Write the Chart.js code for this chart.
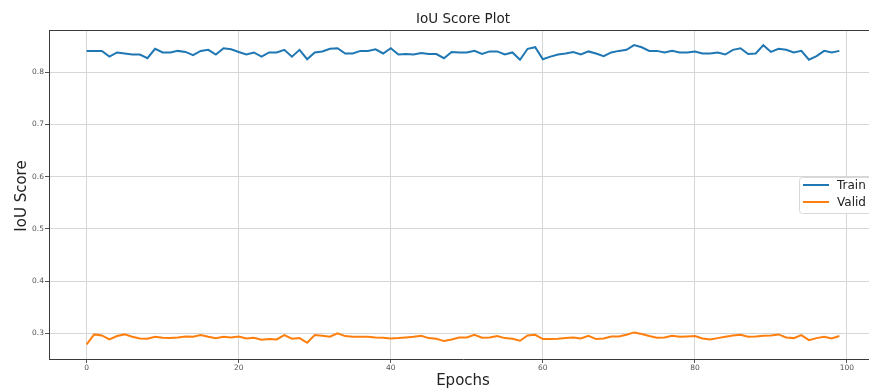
<!DOCTYPE html>
<html>
<head>
<meta charset="utf-8">
<script src="https://cdn.jsdelivr.net/npm/chart.js@4.4.1/dist/chart.umd.min.js"></script>
<style>
  html, body { margin: 0; padding: 0; background: #ffffff; overflow: hidden; }
  #wrap { width: 890px; height: 390px; }
</style>
</head>
<body>
<div id="wrap"><canvas id="c" width="890" height="390"></canvas></div>
<script>
const chartTitle = "IoU Score Plot";
const xAxisTitle = "Epochs";
const yAxisTitle = "IoU Score";
const seriesNames = ["Train", "Valid"];
const seriesColors = ["#1f77b4", "#ff7f0e"];
const xTicks = [0, 20, 40, 60, 80, 100];
const yTicks = [0.3, 0.4, 0.5, 0.6, 0.7, 0.8];

const trainIoU = [
  0.841, 0.841, 0.841, 0.830, 0.838, 0.836, 0.834, 0.834, 0.827, 0.845,
  0.838, 0.838, 0.841, 0.839, 0.833, 0.841, 0.843, 0.834, 0.846, 0.844,
  0.839, 0.834, 0.838, 0.830, 0.838, 0.838, 0.843, 0.830, 0.843, 0.825,
  0.838, 0.840, 0.845, 0.846, 0.836, 0.836, 0.841, 0.841, 0.844, 0.836,
  0.846, 0.834, 0.835, 0.834, 0.837, 0.835, 0.835, 0.827, 0.839, 0.838,
  0.838, 0.841, 0.835, 0.840, 0.840, 0.834, 0.838, 0.824, 0.845, 0.848,
  0.825, 0.830, 0.834, 0.836, 0.839, 0.834, 0.840, 0.836, 0.831, 0.838,
  0.841, 0.843, 0.852, 0.848, 0.841, 0.841, 0.838, 0.841, 0.838, 0.838,
  0.840, 0.836, 0.836, 0.838, 0.834, 0.843, 0.846, 0.835, 0.836, 0.852,
  0.839, 0.845, 0.843, 0.838, 0.841, 0.824, 0.831, 0.841, 0.838, 0.841
];

const validIoU = [
  0.2789, 0.2981, 0.2961, 0.2885, 0.2949, 0.2981, 0.2936, 0.2904, 0.2898, 0.2936,
  0.2917, 0.2910, 0.2923, 0.2942, 0.2936, 0.2968, 0.2936, 0.2910, 0.2936, 0.2923,
  0.2942, 0.2904, 0.2917, 0.2878, 0.2891, 0.2885, 0.2968, 0.2898, 0.2910, 0.2821,
  0.2968, 0.2955, 0.2936, 0.3000, 0.2949, 0.2936, 0.2936, 0.2936, 0.2923, 0.2917,
  0.2904, 0.2910, 0.2923, 0.2936, 0.2955, 0.2910, 0.2898, 0.2853, 0.2885, 0.2923,
  0.2923, 0.2974, 0.2917, 0.2923, 0.2949, 0.2910, 0.2898, 0.2859, 0.2961, 0.2974,
  0.2891, 0.2891, 0.2898, 0.2910, 0.2923, 0.2904, 0.2955, 0.2891, 0.2904, 0.2942,
  0.2942, 0.2974, 0.3019, 0.2987, 0.2949, 0.2917, 0.2923, 0.2955, 0.2936, 0.2942,
  0.2949, 0.2904, 0.2885, 0.2910, 0.2936, 0.2961, 0.2974, 0.2936, 0.2942, 0.2955,
  0.2961, 0.2981, 0.2923, 0.2910, 0.2968, 0.2872, 0.2910, 0.2936, 0.2904, 0.2949
];

const epochs = trainIoU.map((_, i) => i);

const FONT = "'DejaVu Sans', sans-serif";
const SPINE = "#3a3a3a";

const decorPlugin = {
  id: 'decor',
  afterDraw(chart) {
    const ctx = chart.ctx;
    const a = chart.chartArea;
    ctx.save();
    // top spine
    ctx.strokeStyle = SPINE;
    ctx.lineWidth = 1;
    ctx.beginPath();
    ctx.moveTo(a.left, a.top + 0.5);
    ctx.lineTo(a.right, a.top + 0.5);
    ctx.stroke();
    ctx.beginPath();
    ctx.moveTo(a.right - 0.5, a.top);
    ctx.lineTo(a.right - 0.5, a.bottom);
    ctx.stroke();

    const cx = (a.left + a.right) / 2;
    ctx.fillStyle = "#222";
    ctx.textAlign = "center";
    ctx.textBaseline = "middle";
    ctx.font = "13.5px " + FONT;
    ctx.fillText(chartTitle, cx, 19);
    ctx.font = "15px " + FONT;
    ctx.fillText(xAxisTitle, cx, 381);
    ctx.save();
    ctx.translate(22, 196);
    ctx.rotate(-Math.PI / 2);
    ctx.fillText(yAxisTitle, 0, 0);
    ctx.restore();

    // legend
    const lx = 799, ly = 177, lw = 90, lh = 36;
    ctx.fillStyle = "rgba(255,255,255,0.85)";
    ctx.strokeStyle = "#d8d8d8";
    ctx.lineWidth = 1;
    ctx.beginPath();
    ctx.roundRect(lx + 0.5, ly + 0.5, lw, lh, 3);
    ctx.fill();
    ctx.stroke();
    ctx.font = "12px " + FONT;
    ctx.textAlign = "left";
    chart.data.datasets.forEach((ds, i) => {
      const y = ly + 8 + i * 17;
      ctx.strokeStyle = ds.borderColor;
      ctx.lineWidth = 2;
      ctx.beginPath();
      ctx.moveTo(lx + 4, y);
      ctx.lineTo(lx + 30, y);
      ctx.stroke();
      ctx.fillStyle = "#222";
      ctx.fillText(ds.label, lx + 38, y + 1);
    });
    ctx.restore();
  }
};

new Chart(document.getElementById('c'), {
  type: 'line',
  data: {
    datasets: [
      {
        label: seriesNames[0],
        data: epochs.map((e, i) => ({ x: e, y: trainIoU[i] })),
        borderColor: seriesColors[0],
        backgroundColor: seriesColors[0],
        borderWidth: 2,
        pointRadius: 0,
        tension: 0,
        fill: false
      },
      {
        label: seriesNames[1],
        data: epochs.map((e, i) => ({ x: e, y: validIoU[i] })),
        borderColor: seriesColors[1],
        backgroundColor: seriesColors[1],
        borderWidth: 2,
        pointRadius: 0,
        tension: 0,
        fill: false
      }
    ]
  },
  options: {
    responsive: false,
    animation: false,
    events: [],
    layout: { padding: { left: 0, top: 30, right: 13, bottom: 0 } },
    plugins: {
      legend: { display: false },
      title: { display: false },
      tooltip: { enabled: false }
    },
    scales: {
      x: {
        type: 'linear',
        min: -4.95,
        max: 103.95,
        afterBuildTicks(scale) { scale.ticks = xTicks.map(v => ({ value: v })); },
        afterFit(scale) { scale.height = 31; },
        grid: { color: '#d6d6d6', lineWidth: 1, drawTicks: true, tickLength: 4, tickColor: '#555' },
        border: { display: true, color: SPINE, width: 1 },
        ticks: {
          padding: 1,
          autoSkip: false,
          maxRotation: 0,
          color: '#555',
          font: { family: FONT, size: 7.5 },
          callback: v => String(v)
        }
      },
      y: {
        type: 'linear',
        min: 0.251,
        max: 0.881,
        afterBuildTicks(scale) { scale.ticks = yTicks.map(v => ({ value: v })); },
        afterFit(scale) { scale.width = 49; },
        grid: { color: '#d6d6d6', lineWidth: 1, drawTicks: true, tickLength: 4, tickColor: '#555' },
        border: { display: true, color: SPINE, width: 1 },
        ticks: {
          padding: 1,
          autoSkip: false,
          color: '#555',
          font: { family: FONT, size: 7.5 },
          callback: v => v.toFixed(1)
        }
      }
    }
  },
  plugins: [decorPlugin]
});
</script>
</body>
</html>
